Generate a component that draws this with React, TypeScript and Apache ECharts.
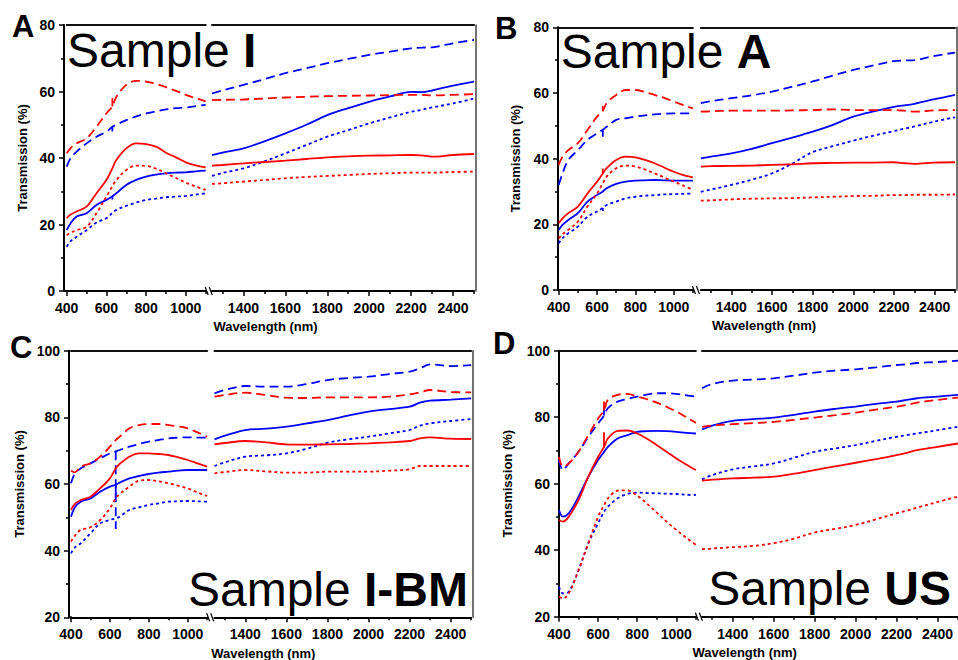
import React, { useEffect, useRef } from "react";
import * as echarts from "echarts";

// ---------- data ----------
const WL_LEFT = [400, 420, 450, 500, 550, 600, 630, 650, 700, 750, 800, 850, 900, 950, 1000, 1050, 1100];
const WL_RIGHT = [1250, 1300, 1400, 1500, 1600, 1700, 1800, 1900, 2000, 2100, 2200, 2250, 2300, 2400, 2500];

const X_MAJOR_LEFT = [400, 600, 800, 1000];
const X_MINOR_LEFT = [500, 700, 900, 1100];
const X_MAJOR_RIGHT = [1400, 1600, 1800, 2000, 2200, 2400];
const X_MINOR_RIGHT = [1300, 1500, 1700, 1900, 2100, 2300, 2500];

const PANEL_LETTERS = ["A", "B", "C", "D"];
const SAMPLE_NAMES = ["I", "A", "I-BM", "US"];
const Y_RANGES = [[0, 80], [0, 80], [20, 100], [20, 100]];

// Panel A (Sample I)  RD=red dashed RS=red solid RT=red dotted, BD/BS/BT = blue
const A_RD_L = [41.4, 43, 44.4, 45.9, 49.4, 53.4, 55.5, 58.4, 62, 63.2, 63, 62.3, 61.3, 60.2, 59, 58, 57];
const A_RD_R = [57.4, 57.5, 57.6, 57.9, 58.2, 58.4, 58.6, 58.7, 58.8, 58.9, 59, 59, 58.8, 59, 59.2];
const A_BD_L = [37.4, 40, 41.9, 44.4, 46.4, 47.9, 49.4, 50, 51.4, 52.5, 53.4, 54, 54.6, 55, 55.2, 55.6, 56];
const A_BD_R = [59.4, 60.3, 62, 63.7, 65.5, 67, 68.5, 69.8, 71, 72, 73, 73.2, 73.3, 74.5, 75.5];
const A_RS_L = [21.9, 23, 23.9, 25.4, 29.4, 33.4, 36.9, 39.4, 42.9, 44.4, 44.2, 43.4, 41.6, 40.2, 38.7, 37.8, 37.2];
const A_RS_R = [37.7, 37.9, 38.4, 38.8, 39.2, 39.7, 40.2, 40.5, 40.7, 40.8, 40.9, 40.8, 40.4, 40.9, 41.2];
const A_BS_L = [18.3, 20.4, 22.4, 23.4, 25.9, 27.4, 28.5, 29.4, 31.9, 33.4, 34.4, 35, 35.4, 35.6, 35.7, 36, 36.2];
const A_BS_R = [40.9, 41.6, 42.9, 45, 47.4, 50, 52.9, 55, 56.9, 58.5, 59.9, 59.8, 60.3, 61.8, 63];
const A_RT_L = [16.8, 17.5, 18.3, 19.3, 23.4, 28.4, 31.5, 33.4, 36.4, 37.7, 37.6, 36.8, 35.4, 34, 32.6, 31.4, 30.4];
const A_RT_R = [32.2, 32.4, 32.9, 33.4, 33.9, 34.3, 34.6, 34.9, 35.2, 35.4, 35.6, 35.6, 35.6, 35.8, 35.9];
const A_BT_L = [13.3, 15, 16.3, 18.3, 20.6, 21.9, 23.5, 24.4, 25.6, 26.6, 27.4, 27.8, 28.2, 28.4, 28.6, 29, 29.4];
const A_BT_R = [34.6, 35.5, 36.9, 39, 41.4, 43.9, 46.4, 48.4, 50.4, 52.2, 53.9, 54.5, 55.2, 56.4, 57.9];
const A_SPIKES = { RD: 58, BD: 48, BS: 27.5 };

// Panel B (Sample A)
const B_RD_L = [38.1, 40.6, 42.6, 44.7, 48.7, 52.8, 54.5, 56.9, 59.4, 60.9, 60.9, 60.3, 59.4, 58.5, 57.4, 56.3, 55.3];
const B_RD_R = [54.3, 54.4, 54.6, 54.6, 54.6, 54.7, 54.8, 55, 54.8, 54.8, 54.8, 54.6, 54.3, 54.7, 54.8];
const B_BD_L = [32, 35.5, 39.6, 42.6, 45.7, 47.7, 48.8, 49.7, 51.8, 52.3, 52.8, 53.2, 53.5, 53.7, 53.8, 53.8, 53.8];
const B_BD_R = [56.9, 57.5, 58.4, 59.3, 60.4, 61.9, 63.5, 65.3, 67, 68.4, 69.7, 69.9, 70, 71.3, 72.3];
const B_RS_L = [20.3, 21.8, 23.4, 25.4, 29.4, 33, 35.5, 37.1, 39.6, 40.6, 40.4, 39.6, 38.6, 37.3, 36, 35, 34.3];
const B_RS_R = [37.6, 37.7, 37.8, 37.9, 38.1, 38.3, 38.6, 38.7, 38.8, 38.8, 38.9, 38.6, 38.4, 38.8, 38.9];
const B_BS_L = [18.3, 19.8, 21.3, 23.4, 26.9, 28.9, 30, 31, 32.3, 33, 33.3, 33.4, 33.5, 33.4, 33.3, 33.3, 33.3];
const B_BS_R = [40.1, 40.6, 41.6, 43, 44.7, 46.4, 48.2, 50.3, 52.8, 54.4, 55.8, 56.2, 56.7, 58.1, 59.4];
const B_RT_L = [15.7, 17, 18.3, 20.8, 25.4, 29.4, 32.5, 34.5, 37.1, 37.9, 37.6, 36.7, 35.5, 34.3, 33, 31.8, 30.5];
const B_RT_R = [27.2, 27.3, 27.6, 27.8, 27.9, 28, 28.2, 28.4, 28.6, 28.7, 28.9, 28.9, 29, 29, 29.1];
const B_BT_L = [14.2, 15.8, 17.3, 19.3, 22.3, 23.9, 25, 25.9, 26.9, 27.9, 28.4, 28.7, 28.9, 29.1, 29.2, 29.3, 29.4];
const B_BT_R = [29.9, 30.6, 32, 33.6, 35.5, 38.5, 42, 43.8, 45.5, 47, 48.4, 49.1, 49.8, 51.3, 52.6];
const B_SPIKES = { RD: 56, BD: 46.7, RS: 37, BT: 23.9 };

// Panel C (Sample I-BM)
const C_RD_L = [64, 63.5, 65.2, 66.2, 68.2, 71.2, 73.2, 74.2, 76.7, 77.7, 78, 78, 77.7, 77.3, 76.7, 75.5, 74.2];
const C_RD_R = [86.2, 86.7, 87.4, 86.7, 85.9, 85.8, 86, 86, 86, 86.2, 86.9, 87.5, 88.2, 87.6, 87.5];
const C_BD_L = [60.2, 63.2, 64.7, 66.2, 67.7, 69.2, 69.8, 70.2, 71.2, 72, 72.7, 73.2, 73.7, 73.9, 74, 73.9, 73.9];
const C_BD_R = [87.2, 88.2, 89.4, 89.2, 89.2, 90, 91.2, 91.8, 92.2, 93, 93.7, 94.7, 95.9, 95.4, 95.7];
const C_RS_L = [52.2, 54, 55.2, 56.2, 58.7, 61.7, 64.7, 66, 68.2, 69.2, 69.2, 69, 68.7, 68, 67.2, 66.2, 65.2];
const C_RS_R = [71.9, 72.3, 72.9, 72.5, 71.9, 71.8, 71.9, 72, 72.2, 72.5, 72.9, 73.7, 74, 73.6, 73.5];
const C_BS_L = [50.2, 53, 54.7, 55.7, 57.7, 59.2, 59.8, 60.4, 61.7, 62.4, 63, 63.4, 63.7, 64, 64.2, 64.2, 64.2];
const C_BS_R = [73.4, 74.5, 76.2, 76.6, 77.2, 78.2, 79.2, 80.5, 81.7, 82.5, 83.2, 84.4, 85, 85.3, 85.7];
const C_RT_L = [42.7, 44.5, 46.2, 47, 49.2, 52.7, 55.7, 57, 59.2, 61, 61.2, 60.8, 60.2, 59.5, 58.7, 57.5, 56.4];
const C_RT_R = [63.2, 63.6, 64.2, 63.8, 63.4, 63.4, 63.7, 63.7, 63.7, 64, 64.4, 65.4, 65.4, 65.4, 65.4];
const C_BT_L = [39.2, 41, 42.2, 45.2, 48.2, 49.2, 49.7, 50.2, 52.2, 53, 53.7, 54.2, 54.7, 54.8, 54.9, 54.8, 54.7];
const C_BT_R = [65.4, 66.5, 68.2, 68.6, 69.2, 70.6, 72.4, 73.4, 74.2, 75.2, 76.2, 77.5, 78.2, 78.9, 79.5];
const C_SPIKES = { BD: 46.5, BS: 56 };

// Panel D (Sample US)
const D_RD_L = [68.1, 65.1, 66.1, 69.6, 74.6, 79.6, 82, 85.2, 86.7, 87, 86.2, 85.4, 84.4, 83.1, 81.7, 80, 78.3];
const D_RD_R = [77.1, 77.5, 77.9, 78.2, 78.6, 79.2, 79.9, 80.6, 81.4, 82.3, 83.2, 83.7, 84.4, 85.2, 85.9];
const D_BD_L = [67.1, 64.1, 66.1, 69.6, 74.1, 78.1, 80.5, 82.7, 84.7, 85.5, 86.2, 86.8, 87.2, 87.2, 87, 86.6, 86.2];
const D_BD_R = [88.7, 90, 91, 91.3, 91.7, 92.5, 93.4, 94, 94.4, 95, 95.7, 95.9, 96.3, 96.6, 97];
const D_RS_L = [49.1, 48.6, 50.1, 55.1, 62.1, 68.1, 71, 73.6, 75.9, 76, 75.1, 73.5, 71.6, 69.6, 67.6, 65.8, 64.1];
const D_RS_R = [60.9, 61.2, 61.6, 61.8, 62.1, 63, 64.1, 65.2, 66.3, 67.4, 68.6, 69.3, 70.1, 71.1, 72.1];
const D_BS_L = [52.1, 50.1, 51.1, 56.1, 62.1, 67.1, 69.5, 71.1, 73.6, 74.6, 75.6, 75.8, 75.9, 75.8, 75.6, 75.3, 75.1];
const D_BS_R = [76.3, 77.5, 78.9, 79.4, 79.9, 80.7, 81.7, 82.5, 83.2, 84, 84.7, 85.2, 85.7, 86.2, 86.7];
const D_RT_L = [26, 25.5, 27, 34, 42.1, 50.1, 53.5, 55.6, 57.9, 58, 56.4, 54, 51.3, 48.6, 46.1, 43.8, 41.6];
const D_RT_R = [40.3, 40.5, 40.9, 41.3, 42.1, 43.5, 45.3, 46.4, 47.6, 49.3, 51.1, 51.9, 52.8, 54.5, 56.1];
const D_BT_L = [29, 27, 27.5, 34, 42.1, 48.1, 51.5, 53.1, 55.6, 56.9, 57.3, 57.2, 57.1, 57, 56.9, 56.7, 56.6];
const D_BT_R = [61.3, 62.6, 64.3, 65.2, 66.1, 67.8, 69.6, 70.6, 71.6, 72.9, 74.1, 74.6, 75.1, 76.1, 77.1];
const D_SPIKES = { RD: 85.8, RS: 75.5, BD: 83 };

const PANEL_SERIES = [
  { RD: [A_RD_L, A_RD_R], BD: [A_BD_L, A_BD_R], RS: [A_RS_L, A_RS_R], BS: [A_BS_L, A_BS_R], RT: [A_RT_L, A_RT_R], BT: [A_BT_L, A_BT_R], spikes: A_SPIKES },
  { RD: [B_RD_L, B_RD_R], BD: [B_BD_L, B_BD_R], RS: [B_RS_L, B_RS_R], BS: [B_BS_L, B_BS_R], RT: [B_RT_L, B_RT_R], BT: [B_BT_L, B_BT_R], spikes: B_SPIKES },
  { RD: [C_RD_L, C_RD_R], BD: [C_BD_L, C_BD_R], RS: [C_RS_L, C_RS_R], BS: [C_BS_L, C_BS_R], RT: [C_RT_L, C_RT_R], BT: [C_BT_L, C_BT_R], spikes: C_SPIKES },
  { RD: [D_RD_L, D_RD_R], BD: [D_BD_L, D_BD_R], RS: [D_RS_L, D_RS_R], BS: [D_BS_L, D_BS_R], RT: [D_RT_L, D_RT_R], BT: [D_BT_L, D_BT_R], spikes: D_SPIKES },
];

// ---------- layout & style ----------
const LAYOUT = [
  { yAxisX: 64, leftL: 66.7, leftR: 205.7, rightL: 212, rightR: 474, top: 25, bottom: 291, nameGap: 35, letterX: 12, letterY: 26.5, sampleX: 67, sampleY: 50, align: "left", wlX: 265.5, wlY: 326 },
  { yAxisX: 558, leftL: 558.7, leftR: 692.9, rightL: 700.8, rightR: 955, top: 27.3, bottom: 290, nameGap: 36, letterX: 495, letterY: 28.5, sampleX: 560.7, sampleY: 51.5, align: "left", wlX: 764, wlY: 325 },
  { yAxisX: 69, leftL: 71, leftR: 207.2, rightL: 214.5, rightR: 471.2, top: 350.7, bottom: 617.3, nameGap: 43, letterX: 10, letterY: 347, sampleX: 468, sampleY: 589.7, align: "right", wlX: 263.3, wlY: 653.5 },
  { yAxisX: 559, leftL: 559, leftR: 695.9, rightL: 702, rightR: 958.5, top: 350.7, bottom: 616.7, nameGap: 45, letterX: 493, letterY: 343, sampleX: 951, sampleY: 588.3, align: "right", wlX: 744.7, wlY: 652 },
];

const FONT = "Liberation Sans";
const RED = "#ff0000";
const BLUE = "#0000ff";
const STYLES: Record<string, { color: string; type: any }> = {
  RD: { color: RED, type: [9, 5] },
  BD: { color: BLUE, type: [9, 5] },
  RS: { color: RED, type: "solid" },
  BS: { color: BLUE, type: "solid" },
  RT: { color: RED, type: [3, 3] },
  BT: { color: BLUE, type: [3, 3] },
};
const KEYS = ["BT", "BS", "BD", "RT", "RS", "RD"];

const LABEL_STYLE = { fontSize: 14, fontWeight: "bold" as const, color: "#000", fontFamily: FONT };

function buildOption() {
  const grid: any[] = [];
  const xAxis: any[] = [];
  const yAxis: any[] = [];
  const series: any[] = [];
  const graphic: any[] = [];

  LAYOUT.forEach((L, p) => {
    const [yMin, yMax] = Y_RANGES[p];
    const segs = [
      { l: L.leftL, r: L.leftR, min: 400, max: 1100, major: X_MAJOR_LEFT, minor: X_MINOR_LEFT },
      { l: L.rightL, r: L.rightR, min: 1250, max: 2500, major: X_MAJOR_RIGHT, minor: X_MINOR_RIGHT },
    ];
    segs.forEach((s, k) => {
      const g = grid.length;
      grid.push({ left: s.l, top: L.top, width: s.r - s.l, height: L.bottom - L.top, containLabel: false });
      const xi = xAxis.length;
      xAxis.push({
        type: "value", gridIndex: g, position: "bottom", min: s.min, max: s.max,
        axisLine: { show: true, onZero: false, lineStyle: { color: "#000", width: 2 } },
        axisTick: { show: true, customValues: s.major, length: 5, lineStyle: { color: "#000", width: 1.5 } },
        axisLabel: { show: true, customValues: s.major, ...LABEL_STYLE, margin: 10, lineHeight: 14, formatter: (v: number) => String(v) },
        splitLine: { show: false },
      });
      xAxis.push({
        type: "value", gridIndex: g, position: "bottom", min: s.min, max: s.max,
        axisLine: { show: false, onZero: false },
        axisTick: { show: true, customValues: s.minor, length: 3, lineStyle: { color: "#000", width: 1.5 } },
        axisLabel: { show: false },
        splitLine: { show: false },
      });
      xAxis.push({
        type: "value", gridIndex: g, position: "top", min: s.min, max: s.max,
        axisLine: { show: true, onZero: false, lineStyle: { color: "#111", width: 2 } },
        axisTick: { show: false }, axisLabel: { show: false }, splitLine: { show: false },
      });
      const yi = yAxis.length;
      if (k === 0) {
        yAxis.push({
          type: "value", gridIndex: g, position: "left", min: yMin, max: yMax, interval: 20,
          offset: s.l - L.yAxisX,
          name: "Transmission (%)", nameLocation: "middle", nameGap: L.nameGap,
          nameTextStyle: { fontSize: 13, fontWeight: "bold", color: "#000", fontFamily: FONT },
          axisLine: { show: true, onZero: false, lineStyle: { color: "#000", width: 2 } },
          axisTick: { show: true, length: 5, lineStyle: { color: "#000", width: 1.5 } },
          minorTick: { show: true, splitNumber: 2, length: 3, lineStyle: { color: "#000", width: 1.5 } },
          axisLabel: { ...LABEL_STYLE, margin: 9, formatter: (v: number) => String(v) },
          splitLine: { show: false },
        });
      } else {
        yAxis.push({
          type: "value", gridIndex: g, position: "right", min: yMin, max: yMax, interval: 20, offset: 2,
          axisLine: { show: true, onZero: false, lineStyle: { color: "#444", width: 1.5 } },
          axisTick: { show: false }, axisLabel: { show: false }, splitLine: { show: false },
        });
      }
      const ps: any = PANEL_SERIES[p];
      const wl = k === 0 ? WL_LEFT : WL_RIGHT;
      KEYS.forEach((key) => {
        const vals: number[] = ps[key][k];
        const ls = { color: STYLES[key].color, width: 1.8, type: STYLES[key].type };
        series.push({
          type: "line", xAxisIndex: xi, yAxisIndex: yi,
          data: wl.map((w, i) => [w, vals[i]]),
          showSymbol: false, symbol: "none", silent: true, smooth: 0.35,
          lineStyle: ls,
        });
        const spike = k === 0 ? ps.spikes[key] : undefined;
        if (spike != null) {
          const i630 = wl.indexOf(630);
          series.push({
            type: "line", xAxisIndex: xi, yAxisIndex: yi,
            data: [[630, vals[i630]], [630, spike]],
            showSymbol: false, symbol: "none", silent: true,
            lineStyle: ls,
          });
        }
      });
    });

    // corner patch between y-axis and left x-axis start
    if (L.leftL - L.yAxisX > 0.3) {
      graphic.push({ type: "line", shape: { x1: L.yAxisX, y1: L.bottom, x2: L.leftL + 1, y2: L.bottom }, style: { stroke: "#000", lineWidth: 2 } });
    }
    // axis break marks
    const bx = L.leftR;
    graphic.push({ type: "line", shape: { x1: bx - 0.5, y1: L.bottom - 4, x2: bx + 2.5, y2: L.bottom + 4 }, style: { stroke: "#000", lineWidth: 1.2 } });
    graphic.push({ type: "line", shape: { x1: bx + 3.5, y1: L.bottom - 4, x2: bx + 6.5, y2: L.bottom + 4 }, style: { stroke: "#000", lineWidth: 1.2 } });
    // x-axis name
    graphic.push({ type: "text", x: L.wlX, y: L.wlY, style: { text: "Wavelength (nm)", fill: "#000", font: `bold 13px ${FONT}`, textAlign: "center", textVerticalAlign: "middle" } });
    // panel letter
    graphic.push({ type: "text", x: L.letterX, y: L.letterY, style: { text: PANEL_LETTERS[p], fill: "#000", font: `bold 31px ${FONT}`, textAlign: "left", textVerticalAlign: "middle" } });
    // sample label
    graphic.push({
      type: "text", x: L.sampleX, y: L.sampleY, z: 10,
      style: {
        text: `{n|Sample }{b|${SAMPLE_NAMES[p]}}`,
        textAlign: L.align, textVerticalAlign: "middle", fill: "#000",
        rich: {
          n: { fontSize: 48, fontFamily: FONT, fontWeight: "normal", fill: "#000" },
          b: { fontSize: 48, fontFamily: FONT, fontWeight: "bold", fill: "#000" },
        },
      },
    });
  });

  return { animation: false, backgroundColor: "#fff", grid, xAxis, yAxis, series, graphic };
}

export default function App() {
  const ref = useRef<HTMLDivElement>(null);
  useEffect(() => {
    if (!ref.current) return;
    const chart = echarts.init(ref.current, null, { renderer: "svg" });
    chart.setOption(buildOption() as any);
    return () => chart.dispose();
  }, []);
  return <div ref={ref} style={{ position: "absolute", left: 0, top: 0, width: 958, height: 660 }} />;
}
